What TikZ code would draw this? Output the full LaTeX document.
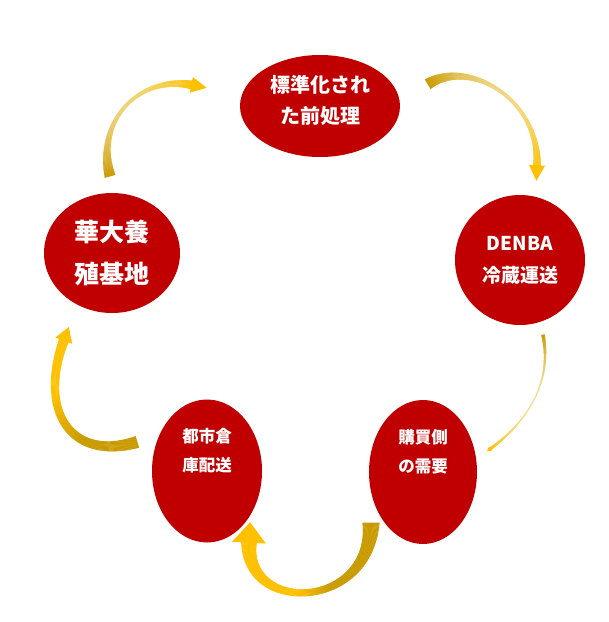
\documentclass[tikz,border=0pt]{standalone}
\usepackage{fontspec}
\setmainfont{Noto Sans CJK JP}
\usetikzlibrary{shapes.geometric, decorations.markings, positioning}
\definecolor{bubblered}{RGB}{192, 0, 0}
\definecolor{flowyellow}{RGB}{255, 192, 0}
\definecolor{flowdark}{RGB}{201, 154, 0}

\tikzset{
  bubble/.style={ellipse, fill=bubblered, inner sep=0pt},
  bubbletext/.style={text=white, align=center, inner sep=0pt},
  % ribbon: tail width, middle width, end width, fade, colour sharpness
  flow/.style n args={5}{postaction={decorate, decoration={markings,
    mark=between positions 0 and 1 step 0.5pt with {
      \pgfmathsetmacro\flowt{\pgfkeysvalueof{/pgf/decoration/mark info/distance from start}/\pgfdecoratedpathlength}
      \pgfmathsetmacro\floww{max(0.3,#1*(1-\flowt)^2+2*(2*#2-(#1+#3)/2)*\flowt*(1-\flowt)+#3*\flowt^2)}
      \pgfmathsetmacro\flowc{100*min(1,max(0,(0.5-\flowt)*#5+0.5))}
      \pgfmathsetmacro\flowf{100-#4*4*\flowt*(1-\flowt)}
      \fill[flowdark!\flowc!flowyellow!\flowf!white] (-0.4pt,-\floww pt) rectangle (0.4pt,\floww pt);
    }}}},
  flowhead/.style 2 args={postaction={decorate, decoration={markings,
    mark=at position 0.999 with {\fill[flowyellow] (-0.5pt,-#2pt) -- (#1pt,0pt) -- (-0.5pt,#2pt) -- cycle;}}}}
}

\begin{document}
\begin{tikzpicture}[x=1pt, y=-1pt]
  \useasboundingbox (0,0) rectangle (609,622);

  % stations
  \node[bubble, minimum width=160pt, minimum height=102pt,
    label={[bubbletext, name=prept, font=\bfseries\fontsize{20}{31}\selectfont, yshift=6pt]center:標準化され\\た前処理}] (prep) at (320,106) {};
  \node[bubble, minimum width=136pt, minimum height=120pt,
    label={[bubbletext, name=farmt, font=\bfseries\fontsize{25}{42}\selectfont]center:華大養\\殖基地}] (farm) at (112,253) {};
  \node[bubble, minimum width=130pt, minimum height=130pt,
    label={[bubbletext, name=coldt, font=\bfseries\fontsize{19}{32}\selectfont]center:DENBA\\冷蔵運送}] (cold) at (520,260) {};
  \node[bubble, minimum width=110pt, minimum height=143pt,
    label={[bubbletext, name=cityt, font=\bfseries\fontsize{16.5}{29}\selectfont, yshift=20pt]center:都市倉\\庫配送}] (city) at (207,471) {};
  \node[bubble, minimum width=108pt, minimum height=144pt,
    label={[bubbletext, name=buyert, font=\bfseries\fontsize{16.5}{29}\selectfont, yshift=20pt]center:購買側\\の需要}] (buyer) at (423,472) {};

  % arrow ends
  \coordinate (farmout) at (110,176);
  \coordinate (prepin) at (192,85);
  \coordinate (prepout) at (428,84);
  \coordinate (coldin) at (537,166);
  \coordinate (coldout) at (543,335);
  \coordinate (buyerin) at (490,449);
  \coordinate (buyerout) at (371,523);
  \coordinate (cityin) at (249,542);
  \coordinate (cityout) at (137,442);
  \coordinate (farmin) at (64,340);

  % flows
  \path[flow={5.5}{1.8}{4.5}{45}{1}, flowhead={15}{8}] (farmout) .. controls (95,120) and (140,75) .. (prepin);
  \path[flow={5.5}{1.8}{4}{50}{1}, flowhead={15}{8}] (prepout) .. controls (470,58) and (540,100) .. (coldin);
  \path[flow={1.8}{0.6}{1.5}{60}{1}, flowhead={4}{2.5}] (coldout) .. controls (552,380) and (530,420) .. (buyerin);
  \path[flow={8.5}{3.5}{8}{0}{6}, flowhead={20}{17}] (buyerout) .. controls (371,610) and (245,615) .. (cityin);
  \path[flow={6}{4}{5}{0}{3}, flowhead={14}{9}] (cityout) .. controls (70,462) and (38,410) .. (farmin);
\end{tikzpicture}
\end{document}
